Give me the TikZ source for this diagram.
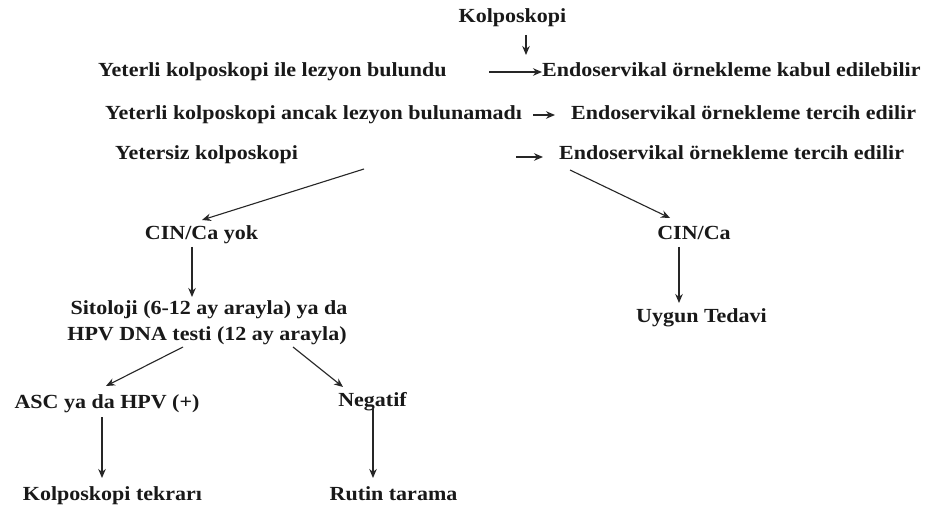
\documentclass[tikz,border=0pt]{standalone}
\usepackage{fontspec}
\setmainfont{Liberation Serif}[FakeStretch=1.1]
\usetikzlibrary{arrows.meta}
\tikzset{
  lbl/.style={inner sep=0pt, font=\fontsize{20}{24}\selectfont\bfseries,
              text height=14pt, text depth=4pt, text=black!90},
  arr/.style={draw=black!85, line width=1.1pt, -{Stealth[length=9pt,width=7.5pt]}}
}
\begin{document}
\begin{tikzpicture}[x=1pt,y=-1pt]
\useasboundingbox[fill=white] (0,0) rectangle (928,510);

% top of the chart
\node[lbl] (kolp) at (512.5,18) {Kolposkopi};
\node[lbl,anchor=west] (y1) at (98,72) {Yeterli kolposkopi ile lezyon bulundu};
\node[lbl,anchor=west] (e1) at (542,72) {Endoservikal örnekleme kabul edilebilir};
\node[lbl,anchor=west] (y2) at (105,115) {Yeterli kolposkopi ancak lezyon bulunamadı};
\node[lbl,anchor=west] (e2) at (571,115) {Endoservikal örnekleme tercih edilir};
\node[lbl,anchor=west] (y3) at (115,155) {Yetersiz kolposkopi};
\node[lbl,anchor=west] (e3) at (559,155) {Endoservikal örnekleme tercih edilir};

% left branch
\node[lbl] (cinyok) at (201.5,235) {CIN/Ca yok};
\node[lbl] (sit1) at (209,310) {Sitoloji (6-12 ay arayla) ya da};
\node[lbl] (sit2) at (207,335) {HPV DNA testi (12 ay arayla)};
\node[lbl] (asc) at (107,403) {ASC ya da HPV (+)};
\node[lbl] (neg) at (372.5,401) {Negatif};
\node[lbl] (kt) at (112.5,495) {Kolposkopi tekrarı};
\node[lbl] (rt) at (393.5,495) {Rutin tarama};

% right branch
\node[lbl] (cin) at (694,235) {CIN/Ca};
\node[lbl] (ut) at (701.5,317) {Uygun Tedavi};

% free ends of the connectors
\coordinate (k0) at (526,35);
\coordinate (k1) at (526,55);
\coordinate (r1) at (489,72);
\coordinate (r2a) at (533,115);
\coordinate (r2b) at (555,115);
\coordinate (r3a) at (516,157);
\coordinate (r3b) at (543,157);
\coordinate (sl) at (364,169);
\coordinate (sr) at (570,170);

\draw[arr] (k0) -- (k1);
\draw[arr] (r1) -- (e1.west);
\draw[arr] (r2a) -- (r2b);
\draw[arr] (r3a) -- (r3b);

\draw[arr] (sl) -- (202,220);
\draw[arr] (sr) -- (670,218);

\draw[arr] (192,247) -- (192,297);
\draw[arr] (679,247) -- (679,303);

\draw[arr] (183,347) -- (106,386);
\draw[arr] (293,347) -- (343,387);

\draw[arr] (102,417) -- (102,478);
\draw[arr] (373,408) -- (373,478);
\end{tikzpicture}
\end{document}
